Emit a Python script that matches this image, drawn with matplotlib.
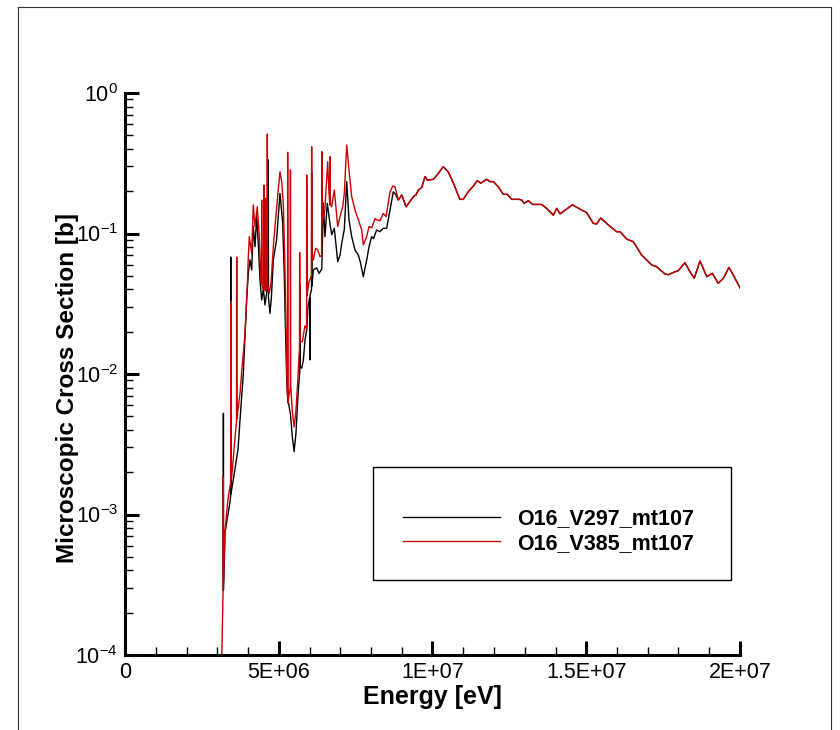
import numpy as np
import matplotlib
matplotlib.use("Agg")
import matplotlib.pyplot as plt
from matplotlib import patches, lines
from matplotlib.ticker import FixedLocator, MultipleLocator, LogLocator, LogFormatterSciNotation, NullFormatter

plt.rcParams['font.family'] = ['Liberation Sans', 'DejaVu Sans']
plt.rcParams['mathtext.fontset'] = 'custom'
plt.rcParams['mathtext.rm'] = 'Liberation Sans'
plt.rcParams['mathtext.default'] = 'regular'

# O16 mt107 cross sections, energy in MeV, sigma in barns
v297_e = [3.195, 3.20, 3.205, 3.252, 3.415, 3.435, 3.44, 3.445, 3.52, 3.675, 3.74, 3.847,
          3.958, 4.01, 4.065, 4.12, 4.172, 4.228, 4.283, 4.34, 4.39, 4.445, 4.50, 4.553,
          4.62, 4.655, 4.66, 4.665, 4.715, 4.76, 4.823, 4.93, 5.04, 5.128, 5.18, 5.22,
          5.26, 5.30, 5.38, 5.44, 5.50, 5.56, 5.636, 5.685, 5.69, 5.695, 5.746, 5.80,
          5.854, 5.909, 5.95, 6.005, 6.01, 6.015, 6.065, 6.07, 6.078, 6.124, 6.234, 6.309,
          6.40, 6.449, 6.504, 6.579, 6.66, 6.722, 6.807, 6.917, 6.992, 7.047, 7.132, 7.21,
          7.285, 7.372, 7.48, 7.587, 7.65, 7.75, 7.86, 7.935, 8.023, 8.08, 8.185, 8.29,
          8.40, 8.51, 8.618, 8.725, 8.80]
v297_xs = [2.9e-4, 5.25e-3, 2.9e-4, 7.4e-4, 1.23e-3, 1.35e-3, 0.068, 1.4e-3, 1.76e-3, 2.9e-3, 4.7e-3, 1.0e-2,
           0.034, 0.052, 0.065, 0.055, 0.112, 0.0805, 0.132, 0.080, 0.047, 0.0336, 0.040, 0.031,
           0.040, 0.040, 0.334, 0.035, 0.027, 0.035, 0.065, 0.090, 0.193, 0.119, 0.050, 0.020,
           0.009, 0.0065, 0.0052, 0.0036, 0.0028, 0.0038, 0.0077, 0.0105, 0.043, 0.0113, 0.011, 0.0125,
           0.0175, 0.0205, 0.030, 0.035, 0.0126, 0.036, 0.040, 0.27, 0.042, 0.055, 0.057, 0.052,
           0.056, 0.165, 0.095, 0.164, 0.12, 0.098, 0.109, 0.063, 0.070, 0.085, 0.107, 0.234,
           0.125, 0.095, 0.0763, 0.0703, 0.063, 0.0493, 0.0648, 0.0805, 0.0949, 0.092, 0.106, 0.103,
           0.109, 0.109, 0.147, 0.198, 0.19]

v385_e = [3.14, 3.19, 3.197, 3.205, 3.25, 3.35, 3.44, 3.445, 3.455, 3.47, 3.60, 3.628,
          3.633, 3.640, 3.74, 3.82, 3.90, 3.977, 4.01, 4.042, 4.088, 4.12, 4.172, 4.228,
          4.302, 4.367, 4.41, 4.44, 4.445, 4.455, 4.50, 4.515, 4.52, 4.53, 4.57, 4.58,
          4.585, 4.595, 4.62, 4.625, 4.628, 4.635, 4.693, 4.75, 4.823, 4.878, 4.98, 5.04,
          5.096, 5.15, 5.20, 5.25, 5.285, 5.29, 5.30, 5.34, 5.375, 5.38, 5.39, 5.44,
          5.50, 5.56, 5.62, 5.66, 5.675, 5.68, 5.69, 5.77, 5.85, 5.905, 5.91, 5.92,
          5.98, 6.065, 6.07, 6.08, 6.124, 6.20, 6.27, 6.34, 6.395, 6.40, 6.41, 6.50,
          6.59, 6.63, 6.662, 6.667, 6.68, 6.722, 6.807, 6.917, 6.992, 7.08, 7.132, 7.21,
          7.285, 7.372, 7.48, 7.587, 7.698, 7.75, 7.86, 7.935, 8.023, 8.13, 8.185, 8.29,
          8.40, 8.49, 8.618, 8.71, 8.78]
v385_xs = [8e-5, 2.9e-4, 1.85e-3, 3.3e-4, 7.5e-4, 1.3e-3, 1.7e-3, 0.033, 1.8e-3, 1.85e-3, 4.0e-3, 4.6e-3,
           0.068, 4.8e-3, 7.3e-3, 1.2e-2, 1.9e-2, 0.043, 0.068, 0.095, 0.0805, 0.072, 0.160, 0.112,
           0.155, 0.095, 0.050, 0.044, 0.173, 0.043, 0.040, 0.042, 0.221, 0.040, 0.039, 0.040,
           0.178, 0.040, 0.042, 0.043, 0.511, 0.043, 0.0377, 0.045, 0.080, 0.112, 0.20, 0.275,
           0.234, 0.160, 0.060, 0.014, 0.0070, 0.378, 0.0062, 0.0072, 0.0080, 0.283, 0.0082, 0.0055,
           0.0042, 0.0055, 0.0090, 0.0135, 0.015, 0.073, 0.017, 0.017, 0.022, 0.021, 0.261, 0.036,
           0.045, 0.050, 0.415, 0.075, 0.0648, 0.0785, 0.0763, 0.0684, 0.070, 0.382, 0.12, 0.147,
           0.324, 0.20, 0.16, 0.352, 0.16, 0.155, 0.204, 0.112, 0.132, 0.155, 0.193, 0.426,
           0.283, 0.183, 0.147, 0.125, 0.106, 0.083, 0.095, 0.112, 0.110, 0.128, 0.125, 0.123,
           0.139, 0.132, 0.198, 0.218, 0.215]

# above ~8.9 MeV both evaluations coincide
tail_e = [8.89, 9.00, 9.14, 9.38, 9.46, 9.54, 9.65, 9.76, 9.83, 10.03, 10.19, 10.35, 10.51,
          10.68, 10.89, 11.00, 11.16, 11.33, 11.46, 11.57, 11.76, 11.87, 11.98, 12.14, 12.30,
          12.43, 12.58, 12.82, 12.90, 12.98, 13.12, 13.26, 13.55, 13.71, 13.93, 14.04, 14.15,
          14.36, 14.55, 14.80, 15.01, 15.23, 15.34, 15.47, 15.72, 15.99, 16.10, 16.32, 16.53,
          16.80, 17.13, 17.29, 17.56, 17.67, 17.89, 17.99, 18.21, 18.37, 18.51, 18.70, 18.92,
          19.10, 19.29, 19.46, 19.64, 19.78, 20.00]
tail_xs = [0.173, 0.188, 0.155, 0.183, 0.188, 0.204, 0.213, 0.254, 0.240, 0.243, 0.268, 0.299, 0.275,
           0.228, 0.175, 0.175, 0.198, 0.218, 0.238, 0.228, 0.243, 0.234, 0.234, 0.215, 0.190,
           0.190, 0.175, 0.175, 0.173, 0.164, 0.171, 0.161, 0.161, 0.151, 0.135, 0.151, 0.138,
           0.149, 0.160, 0.149, 0.141, 0.118, 0.117, 0.129, 0.115, 0.103, 0.103, 0.0910, 0.0875,
           0.0703, 0.0597, 0.0580, 0.0515, 0.0509, 0.0535, 0.0543, 0.0620, 0.0535, 0.0480, 0.0637, 0.0493,
           0.0521, 0.0442, 0.0480, 0.0574, 0.0507, 0.0410]

labels = ["O16_V297_mt107", "O16_V385_mt107"]
xticks = [0, 5e6, 1e7, 1.5e7, 2e7]
xticklabels = ["0", "5E+06", "1E+07", "1.5E+07", "2E+07"]

W, H = 840.0, 730.0
fig = plt.figure(figsize=(8.4, 7.3), dpi=100)
ax = fig.add_axes([125 / W, 1 - 655 / H, 615 / W, 562 / H])

e1 = np.array(v297_e + tail_e) * 1e6
s1 = np.array(v297_xs + tail_xs)
e2 = np.array(v385_e + tail_e) * 1e6
s2 = np.array(v385_xs + tail_xs)
ax.plot(e1, s1, color="black", lw=1.0, label=labels[0])
ax.plot(e2, s2, color="#cc0000", lw=1.0, label=labels[1])

ax.set_yscale("log")
ax.set_xlim(0, 2e7)
ax.set_ylim(1e-4, 1)

ax.xaxis.set_major_locator(FixedLocator(xticks))
ax.set_xticklabels(xticklabels)
ax.xaxis.set_minor_locator(MultipleLocator(1e6))
ax.yaxis.set_major_locator(LogLocator(base=10))
ax.yaxis.set_minor_locator(LogLocator(base=10, subs=np.arange(2, 10)))
ax.yaxis.set_major_formatter(LogFormatterSciNotation())
ax.yaxis.set_minor_formatter(NullFormatter())

for side in ["top", "right"]:
    ax.spines[side].set_visible(False)
for side in ["left", "bottom"]:
    ax.spines[side].set_linewidth(2.2)
ax.tick_params(which="major", direction="in", length=10, width=2.2, labelsize=15.5, pad=5)
ax.tick_params(which="minor", direction="in", length=6, width=1.0)

ax.set_xlabel("Energy [eV]", fontsize=18, fontweight="bold")
ax.set_ylabel("Microscopic Cross Section [b]", fontsize=17.5, fontweight="bold")
ax.xaxis.set_label_coords(0.5, -0.054)
ax.yaxis.set_label_coords(-0.074, 0.475)

# legend box
fig.add_artist(patches.Rectangle((373 / W, 1 - 580 / H), (731 - 373) / W, (580 - 467) / H,
                                 transform=fig.transFigure, fill=False, lw=1.0, ec="black"))
ax.legend(loc="center left", bbox_to_anchor=(403 / W, 1 - 531 / H), bbox_transform=fig.transFigure,
          frameon=False, borderpad=0, borderaxespad=0, handlelength=4.5, handletextpad=0.8,
          labelspacing=0.15, prop={"weight": "bold", "size": 15.5})

# page frame
for xs, ys in [((18 / W, 831 / W), (1 - 6.5 / H, 1 - 6.5 / H)),
               ((18 / W, 18 / W), (0, 1 - 6.5 / H)),
               ((831 / W, 831 / W), (0, 1 - 6.5 / H))]:
    fig.add_artist(lines.Line2D(xs, ys, transform=fig.transFigure, color="#333333", lw=0.8))

plt.savefig("out.png", dpi=100)
